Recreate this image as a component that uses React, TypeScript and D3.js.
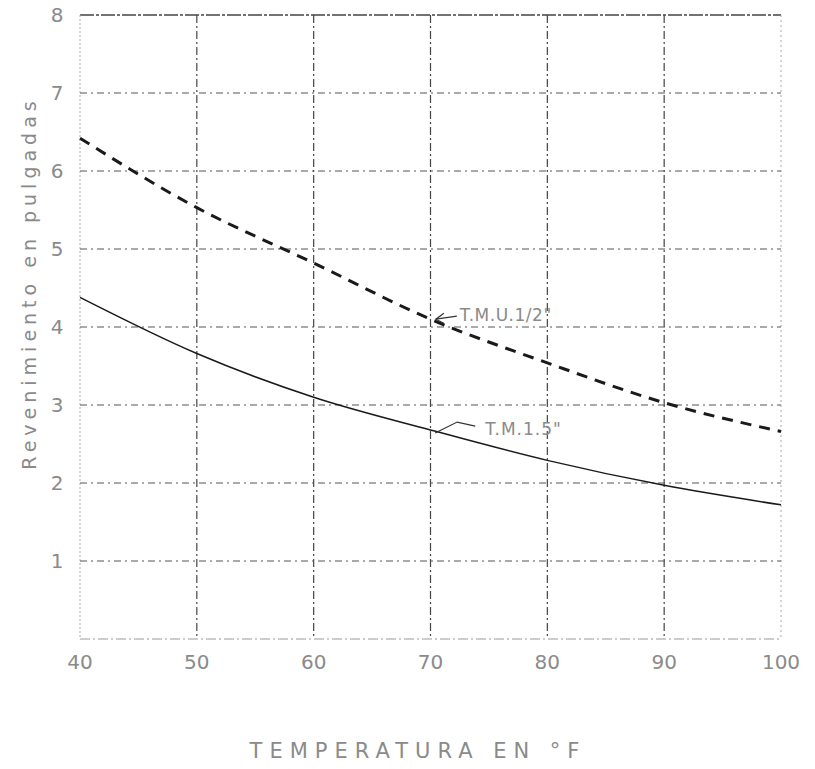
import React from "react";
import * as d3 from "d3";

const temps = [40, 50, 60, 70, 80, 90, 100];
const tmuHalf = [6.42, 5.53, 4.82, 4.1, 3.54, 3.03, 2.66];
const tm15 = [4.38, 3.66, 3.1, 2.68, 2.29, 1.97, 1.72];
const xTicks = [40, 50, 60, 70, 80, 90, 100];
const xTickLabels = ["40", "50", "60", "70", "80", "90", "100"];
const yTicks = [1, 2, 3, 4, 5, 6, 7, 8];
const seriesLabels = ["T.M.U.1/2\"", "T.M.1.5\""];
const xTitle = "TEMPERATURA EN °F";
const yTitle = "Revenimiento en pulgadas";

const W = 815;
const H = 769;

export default function App() {
  const x = d3.scaleLinear().domain([40, 100]).range([80, 781]);
  const y = d3.scaleLinear().domain([0, 8]).range([639, 15]);
  const line = d3
    .line<number>()
    .x((_, i) => x(temps[i]))
    .y((d) => y(d))
    .curve(d3.curveMonotoneX);

  const gridColor = "#555";
  const textColor = "#8a8a8a";
  const font = "'DejaVu Sans', sans-serif";

  const a1x = x(70.2);
  const a1y = y(4.1);
  const a2x = x(70.4);
  const a2y = y(2.64);

  return (
    <svg
      width={W}
      height={H}
      style={{ position: "absolute", left: 0, top: 0, background: "#fff" }}
      fontFamily={font}
    >
      {/* frame */}
      <line x1={x(40)} x2={x(100)} y1={y(8)} y2={y(8)} stroke="#444" strokeWidth={1.5} strokeDasharray="14 2 3 2" />
      <line x1={x(40)} x2={x(100)} y1={y(0)} y2={y(0)} stroke="#999" strokeWidth={1} strokeDasharray="10 3 2 3" />
      <line x1={x(40)} x2={x(40)} y1={y(8)} y2={y(0)} stroke="#aaa" strokeWidth={1} strokeDasharray="2 2" />
      <line x1={x(100)} x2={x(100)} y1={y(8)} y2={y(0)} stroke="#aaa" strokeWidth={1} strokeDasharray="2 3" />
      {/* grid */}
      {xTicks.slice(1, -1).map((t) => (
        <line key={"gx" + t} x1={x(t)} x2={x(t)} y1={y(8)} y2={y(0)} stroke="#444" strokeWidth={1.2} strokeDasharray="8 3 2 3" />
      ))}
      {yTicks.slice(0, -1).map((t) => (
        <line key={"gy" + t} x1={x(40)} x2={x(100)} y1={y(t)} y2={y(t)} stroke={gridColor} strokeWidth={1} strokeDasharray="7 4 2 4" />
      ))}
      {/* curves */}
      <path d={line(tmuHalf) || ""} fill="none" stroke="#1a1a1a" strokeWidth={3} strokeDasharray="11 8" />
      <path d={line(tm15) || ""} fill="none" stroke="#1a1a1a" strokeWidth={1.5} />
      {/* annotation 1 */}
      <g stroke="#333" strokeWidth={1.2} fill="none">
        <path d={`M${a1x + 3},${a1y} L${a1x + 24},${a1y - 3}`} />
        <path d={`M${a1x + 11},${a1y - 6} L${a1x + 3},${a1y} L${a1x + 11},${a1y + 4}`} />
      </g>
      <text x={a1x + 27} y={a1y + 2} fontSize={17} fill={textColor} letterSpacing={0.5}>
        {seriesLabels[0]}
      </text>
      {/* annotation 2 */}
      <g stroke="#333" strokeWidth={1.2} fill="none">
        <path d={`M${a2x},${a2y} L${a2x + 22},${a2y - 11} L${a2x + 40},${a2y - 7}`} />
      </g>
      <text x={a2x + 50} y={a2y + 2} fontSize={17} fill={textColor} letterSpacing={1}>
        {seriesLabels[1]}
      </text>
      {/* x tick labels */}
      {xTicks.map((t, i) => (
        <text key={"xt" + t} x={x(t)} y={y(0) + 30} fontSize={20} fill={textColor} textAnchor="middle">
          {xTickLabels[i]}
        </text>
      ))}
      {/* y tick labels */}
      {yTicks.map((t) => (
        <text key={"yt" + t} x={57} y={y(t) + 7} fontSize={20} fill={textColor} textAnchor="middle">
          {t}
        </text>
      ))}
      {/* titles */}
      <text x={418} y={758} fontSize={21} fill={textColor} textAnchor="middle" letterSpacing={7}>
        {xTitle}
      </text>
      <text
        transform={`translate(36,${283}) rotate(-90)`}
        fontSize={19}
        fill={textColor}
        textAnchor="middle"
        letterSpacing={5}
      >
        {yTitle}
      </text>
    </svg>
  );
}
